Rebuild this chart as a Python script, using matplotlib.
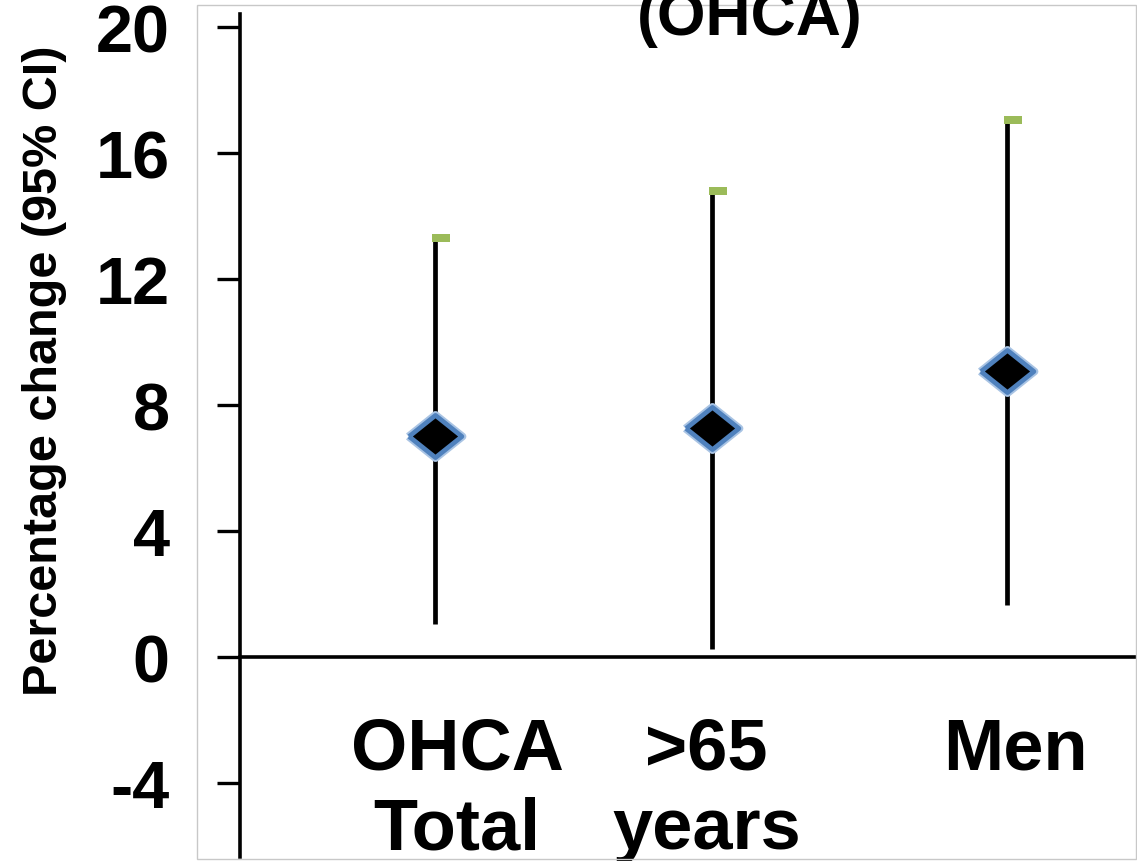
import matplotlib
matplotlib.use("Agg")
import matplotlib.pyplot as plt
from matplotlib.patches import Rectangle

plt.rcParams['font.family'] = ['Liberation Sans', 'DejaVu Sans']
plt.rcParams['font.weight'] = 'bold'
plt.rcParams['axes.unicode_minus'] = False

# data
categories = ["OHCA\nTotal", ">65\nyears", "Men"]
estimate = [7.02, 7.28, 9.08]
ci_low = [1.05, 0.25, 1.65]
ci_high = [13.3, 14.8, 17.05]
y_ticks = [-4, 0, 4, 8, 12, 16, 20]

# layout
xpos = [0.0, 0.97, 2.0]
label_pos = [0.077, 0.95, 2.03]
BLUE = "#4f81bd"
GREEN = "#9bbb59"

fig = plt.figure(figsize=(11.37, 8.62), dpi=100)
ax = fig.add_axes([197 / 1137, 2 / 862, 940 / 1137, 854 / 862])
ax.set_xlim(-0.832, 2.455)
ax.set_ylim(-6.41, 20.70)

# CI lines
ax.vlines(xpos, ci_low, ci_high, color="black", lw=3.4, zorder=2)

# green cap sitting to the right of each line top
cap = [(-0.2, -0.25), (1, -0.25), (1, 0.25), (-0.2, 0.25), (-0.2, -0.25)]
ax.plot(xpos, ci_high, ls="none", marker=cap, markersize=21.6,
        color=GREEN, markeredgewidth=0, zorder=3)

# diamonds (slightly wider than tall), soft blue halo underneath
diamond = [(-1, 0), (0, 0.8), (1, 0), (0, -0.8), (-1, 0)]
ax.plot(xpos, estimate, ls="none", marker=diamond, markersize=39,
        markerfacecolor="none", markeredgecolor="#a9c4e4",
        markeredgewidth=5.5, zorder=3)
ax.plot(xpos, estimate, ls="none", marker=diamond, markersize=38,
        markerfacecolor="black", markeredgecolor=BLUE, markeredgewidth=3.4,
        zorder=4)

# axis lines
for s in ["top", "right"]:
    ax.spines[s].set_visible(False)
ax.spines["left"].set_position(("data", -0.682))
ax.spines["left"].set_bounds(-6.35, 20.41)
ax.spines["bottom"].set_position(("data", 0))
ax.spines["bottom"].set_bounds(-0.682, 2.455)
for s in ["left", "bottom"]:
    ax.spines[s].set_linewidth(2.6)

ax.set_yticks(y_ticks)
ax.set_yticklabels([str(t) for t in y_ticks], fontsize=48, fontweight="bold")
ax.tick_params(axis="y", direction="out", length=16.5, width=2.4, pad=34)

ax.set_xticks([])
for xp, lab in zip(label_pos, categories):
    ax.text(xp, -1.85, lab, ha="center", va="top", fontsize=52,
            fontweight="bold", linespacing=1.22)

ax.patch.set_visible(False)

# thin gray frame
fig.patches.append(Rectangle((197 / 1137, 2 / 862), 939 / 1137, 854 / 862,
                             transform=fig.transFigure, fill=False,
                             edgecolor="#c8c8c8", lw=1.0))

fig.text(45 / 1137, 1 - 371 / 862, "Percentage change (95% CI)",
         rotation=90, ha="center", va="center", fontsize=35,
         fontweight="bold")

fig.text(750 / 1137, 1 - 35 / 862, "(OHCA)", ha="center", va="baseline",
         fontsize=45, fontweight="bold")

fig.savefig("out.png", dpi=100)
